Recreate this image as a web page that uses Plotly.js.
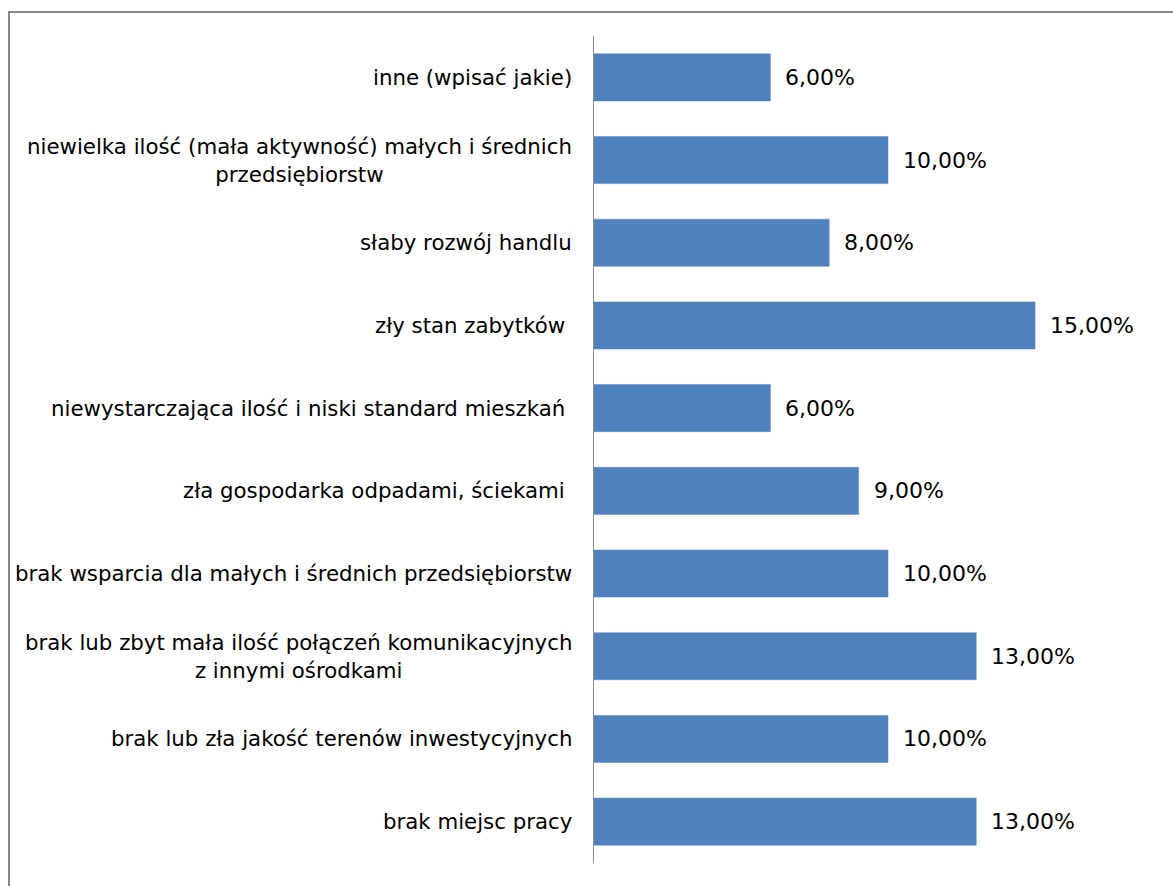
<!DOCTYPE html>
<html>
<head>
<meta charset="utf-8">
<script src="https://cdn.plot.ly/plotly-3.0.1.min.js"></script>
<style>
  html, body { margin: 0; padding: 0; background: #fff; }
  #wrap { position: relative; width: 1173px; height: 886px; overflow: hidden; }
  #chart { position: absolute; left: 0; top: 0; width: 1173px; height: 886px; }
  #frame { position: absolute; left: 8px; top: 11px; width: 1200px; height: 900px;
           border-left: 2px solid #878787; border-top: 2px solid #878787; pointer-events: none; }
</style>
</head>
<body>
<div id="wrap">
  <div id="chart"></div>
  <div id="frame"></div>
</div>
<script>
// Categories listed top to bottom as they appear in the chart
const categories = [
  "inne (wpisać jakie)",
  "niewielka ilość (mała aktywność) małych i średnich<br>przedsiębiorstw",
  "słaby rozwój handlu",
  "zły stan zabytków ",
  "niewystarczająca ilość i niski standard mieszkań ",
  "zła gospodarka odpadami, ściekami ",
  "brak wsparcia dla małych i średnich przedsiębiorstw",
  "brak lub zbyt mała ilość połączeń komunikacyjnych<br>z innymi ośrodkami",
  "brak lub zła jakość terenów inwestycyjnych",
  "brak miejsc pracy"
];
const values = [6, 10, 8, 15, 6, 9, 10, 13, 10, 13];
const valueLabels = ["6,00%", "10,00%", "8,00%", "15,00%", "6,00%", "9,00%", "10,00%", "13,00%", "10,00%", "13,00%"];

const FONT = "DejaVu Sans, Verdana, sans-serif";

const trace = {
  type: "bar",
  orientation: "h",
  x: values,
  y: categories,
  width: 0.57,
  marker: { color: "#4F81BD", line: { color: "#5B8BC6", width: 0.5 } },
  hoverinfo: "skip"
};

const annotations = [];
categories.forEach((c, i) => {
  // category label (centered lines, block right-aligned to the axis)
  annotations.push({
    x: 0, y: c, xref: "x", yref: "y",
    text: c, showarrow: false,
    xanchor: "right", yanchor: "middle", align: "center",
    xshift: -20,
    font: { family: FONT, size: 21.3, color: "#000" }
  });
  // value label
  annotations.push({
    x: values[i], y: c, xref: "x", yref: "y",
    text: valueLabels[i], showarrow: false,
    xanchor: "left", yanchor: "middle",
    xshift: 13,
    font: { family: FONT, size: 22, color: "#000" }
  });
});

const layout = {
  width: 1173, height: 886,
  margin: { l: 594, r: 50, t: 36, b: 23, pad: 0 },
  paper_bgcolor: "#fff", plot_bgcolor: "rgba(0,0,0,0)",
  showlegend: false,
  bargap: 0.43,
  xaxis: {
    range: [0, 17.99], showgrid: false, zeroline: false,
    showticklabels: false, ticks: "", showline: false, fixedrange: true
  },
  yaxis: {
    type: "category", categoryorder: "array", categoryarray: categories,
    autorange: "reversed",
    showticklabels: false, ticks: "", showgrid: false, zeroline: false,
    showline: true, linecolor: "#8a8a8a", linewidth: 1.5, fixedrange: true
  },
  annotations: annotations,
  font: { family: FONT, size: 21, color: "#000" }
};

Plotly.newPlot("chart", [trace], layout, { displayModeBar: false, staticPlot: true });
</script>
</body>
</html>
